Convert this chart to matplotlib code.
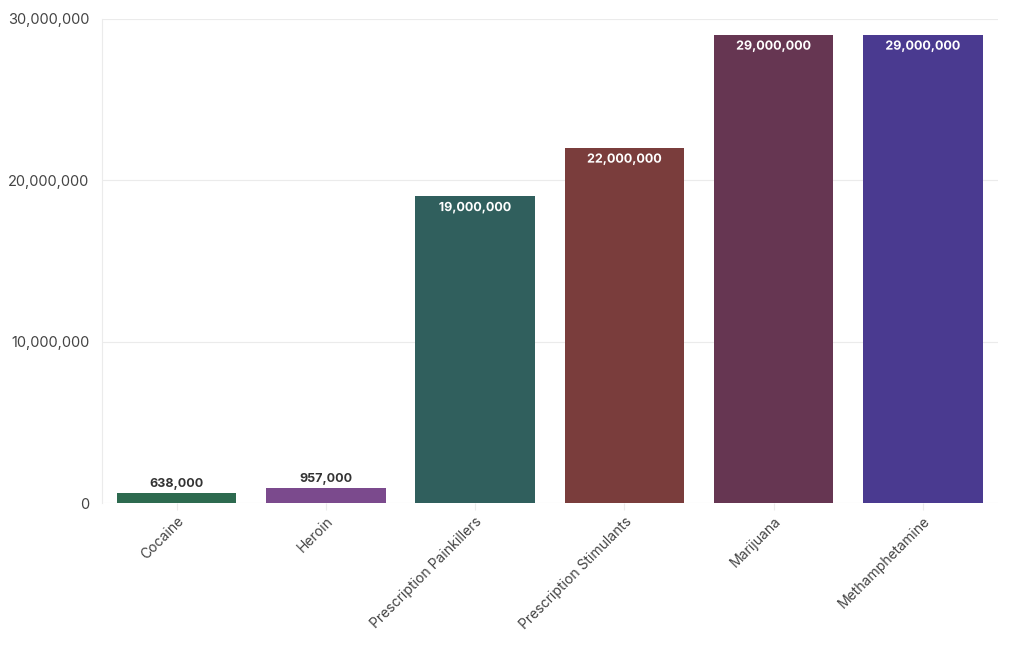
import matplotlib.pyplot as plt
import matplotlib.ticker as ticker
import matplotlib.patheffects as pe

drugs = ['Cocaine', 'Heroin', 'Prescription Painkillers',
         'Prescription Stimulants', 'Marijuana', 'Methamphetamine']
users = [638000, 957000, 19000000, 22000000, 29000000, 29000000]
colors = ['#2d6a4f', '#7b4a8d', '#305f5d', '#7a3d3c', '#663652', '#4a3a90']

plt.rcParams['font.family'] = ['Inter', 'DejaVu Sans']

fig = plt.figure(figsize=(10.2, 6.5), dpi=100)
ax = fig.add_axes([0.1, 0.226, 0.878, 0.745])

x = range(len(drugs))
bars = ax.bar(x, users, width=0.8, color=colors, zorder=2)

for xi, val, col in zip(x, users, colors):
    label = '{:,}'.format(val)
    if val > 3000000:
        ax.text(xi, val - 350000, label, ha='center', va='top',
                fontsize=9, fontweight='bold', color='white', zorder=3,
                path_effects=[pe.withStroke(linewidth=2.5, foreground=col)])
    else:
        ax.text(xi, val + 150000, label, ha='center', va='bottom',
                fontsize=9, fontweight='bold', color='#333333', zorder=3)

ax.set_xlim(-0.5, len(drugs) - 0.5)
ax.set_ylim(0, 30000000)
ax.yaxis.set_major_locator(ticker.MultipleLocator(10000000))
ax.yaxis.set_major_formatter(ticker.FuncFormatter(lambda v, p: '{:,.0f}'.format(v)))
ax.grid(axis='y', color='#ebebeb', linewidth=0.8, zorder=0)

ax.set_xticks(list(x))
ax.set_xticklabels(drugs, rotation=45, ha='right', rotation_mode='anchor',
                   fontsize=10, color='#444444')
ax.tick_params(axis='x', length=5, color='#ebebeb', pad=3)
ax.tick_params(axis='y', length=0, labelsize=10.5, labelcolor='#444444', pad=9)

for side in ['top', 'right', 'bottom']:
    ax.spines[side].set_visible(False)
ax.spines['left'].set_color('#ebebeb')
ax.spines['left'].set_linewidth(0.8)

fig.savefig('out.png', dpi=100)
